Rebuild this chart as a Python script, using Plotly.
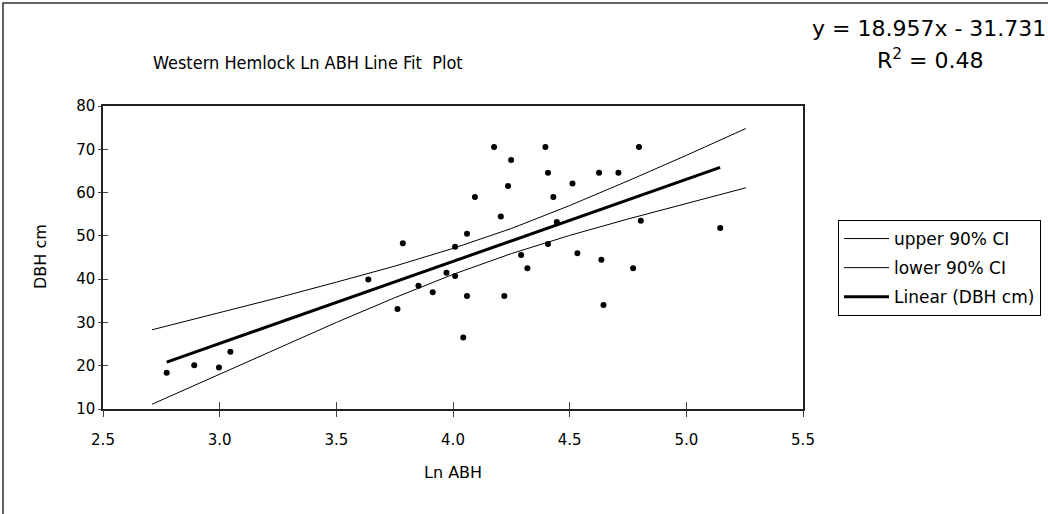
import plotly.graph_objects as go

# ---- data ----
ln_abh = [2.773, 2.891, 2.997, 3.046, 3.637, 3.762, 3.785, 3.852, 3.913, 3.972,
          4.009, 4.009, 4.044, 4.060, 4.060, 4.094, 4.176, 4.205, 4.220, 4.236,
          4.249, 4.292, 4.319, 4.396, 4.407, 4.407, 4.430, 4.445, 4.512, 4.533,
          4.626, 4.636, 4.645, 4.709, 4.772, 4.797, 4.805, 5.145]
dbh_cm = [18.4, 20.1, 19.6, 23.2, 39.9, 33.1, 48.3, 38.5, 37.0, 41.5,
          47.5, 40.7, 26.5, 50.5, 36.1, 59.0, 70.5, 54.5, 36.1, 61.5,
          67.5, 45.6, 42.5, 70.5, 64.6, 48.1, 59.0, 53.2, 62.1, 46.0,
          64.6, 44.5, 34.0, 64.6, 42.5, 70.5, 53.5, 51.8]

ci_x = [2.71, 3.0, 3.25, 3.5, 3.75, 4.0, 4.25, 4.5, 4.75, 5.0, 5.255]
ci_upper = [28.3, 32.2, 35.7, 39.3, 43.0, 47.1, 51.7, 57.0, 62.7, 68.6, 74.8]
ci_lower = [11.1, 18.1, 24.1, 30.0, 35.7, 41.1, 45.9, 50.1, 53.9, 57.5, 61.1]

slope = 18.957
intercept = -31.731
r_squared = 0.48

x_ticks = [2.5, 3.0, 3.5, 4.0, 4.5, 5.0, 5.5]
y_ticks = [10, 20, 30, 40, 50, 60, 70, 80]

# trend line endpoints from the data range
fit_x = [min(ln_abh), max(ln_abh)]
fit_y = [slope * v + intercept for v in fit_x]

# ---- layout geometry (pixels) ----
W, H = 1048, 514
L, R, T, B = 103, 245, 106, 105
PW, PH = W - L - R, H - T - B


def px_x(p):
    return (p - L) / PW


def px_y(p):
    return (H - B - p) / PH


FONT = "DejaVu Sans, Verdana, sans-serif"
TITLE_FONT = "DejaVu Sans Condensed, Liberation Sans Narrow, DejaVu Sans, sans-serif"

fig = go.Figure()

fig.add_trace(go.Scatter(x=ln_abh, y=dbh_cm, mode="markers",
                         marker=dict(color="black", size=6),
                         showlegend=False, name="DBH cm"))
fig.add_trace(go.Scatter(x=ci_x, y=ci_upper, mode="lines",
                         line=dict(color="black", width=1),
                         name="upper 90% CI", legendgroup="a"))
fig.add_trace(go.Scatter(x=ci_x, y=ci_lower, mode="lines",
                         line=dict(color="black", width=1),
                         name="lower 90% CI", legendgroup="b"))
fig.add_trace(go.Scatter(x=fit_x, y=fit_y, mode="lines",
                         line=dict(color="black", width=3),
                         name="Linear (DBH cm)", legendgroup="c"))
# invisible trace anchoring the overlay axes (inner halves of the cross ticks)
fig.add_trace(go.Scatter(x=[x_ticks[0]], y=[y_ticks[0]], xaxis="x2", yaxis="y2",
                         mode="markers", marker=dict(opacity=0), showlegend=False,
                         hoverinfo="skip"))

tick_font = dict(family=FONT, size=15, color="black")

fig.update_layout(
    width=W, height=H,
    margin=dict(l=L, r=R, t=T, b=B, autoexpand=False),
    paper_bgcolor="white", plot_bgcolor="white",
    xaxis=dict(range=[2.5, 5.5], tickvals=x_ticks,
               ticktext=[f"{v:.1f}" for v in x_ticks], ticks="outside",
               ticklen=6, tickwidth=1, tickcolor="#444444",
               ticklabelstandoff=10, tickfont=tick_font,
               showline=True, mirror=True, linecolor="#222222", linewidth=1.5,
               showgrid=False, zeroline=False),
    yaxis=dict(range=[10, 80], tickvals=y_ticks, ticks="outside",
               ticklen=3, tickwidth=1, tickcolor="#444444", tickfont=tick_font,
               showline=True, mirror=True, linecolor="#222222", linewidth=1.5,
               showgrid=False, zeroline=False),
    xaxis2=dict(range=[2.5, 5.5], tickvals=x_ticks, ticks="inside", overlaying="x",
                side="bottom", showticklabels=False, showline=False,
                showgrid=False, zeroline=False, tickcolor="#444444", ticklen=7),
    yaxis2=dict(range=[10, 80], tickvals=y_ticks, ticks="inside", overlaying="y",
                side="left", showticklabels=False, showline=False,
                showgrid=False, zeroline=False, tickcolor="#444444", ticklen=5),
    legend=dict(x=px_x(838), y=px_y(220), xanchor="left", yanchor="top",
                bordercolor="black", borderwidth=1, bgcolor="white",
                font=dict(family=FONT, size=17, color="black"),
                tracegroupgap=4, itemwidth=45),
    showlegend=True,
)

annotations = [
    dict(text="Western Hemlock Ln ABH Line Fit  Plot", x=px_x(308), y=px_y(62),
         font=dict(size=18, family=TITLE_FONT)),
    dict(text=f"y = {slope}x - {abs(intercept)}", x=px_x(929), y=px_y(28),
         font=dict(size=22)),
    dict(text=f"R<sup>2</sup> = {r_squared}", x=px_x(930), y=px_y(59),
         font=dict(size=22)),
    dict(text="Ln ABH", x=px_x(453), y=px_y(473), font=dict(size=16)),
    dict(text="DBH cm", x=px_x(40), y=px_y(257), textangle=-90, font=dict(size=16)),
]
for a in annotations:
    a.update(xref="paper", yref="paper", showarrow=False,
             xanchor="center", yanchor="middle")
    a["font"].setdefault("family", FONT)
    a["font"]["color"] = "black"
fig.update_layout(annotations=annotations)

# outer chart-area border
fig.add_shape(type="rect", xref="paper", yref="paper",
              x0=px_x(3), x1=px_x(W + 5), y0=px_y(H + 5), y1=px_y(3),
              line=dict(color="#333333", width=1.5), layer="below")

fig.write_html("out.html")
